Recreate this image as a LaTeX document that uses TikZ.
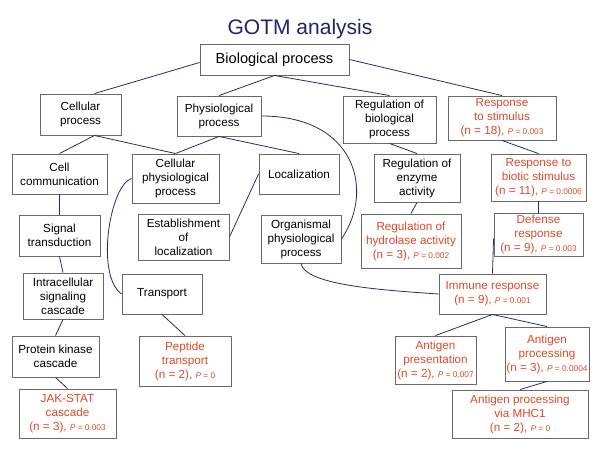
\documentclass[tikz,border=0pt]{standalone}
\usepackage{fontspec}
\setmainfont{Liberation Sans}
\usepackage{xcolor}
\usepackage{tikz}
\usetikzlibrary{arrows.meta, positioning}

\definecolor{titleblue}{RGB}{30,34,112}
\definecolor{linkblue}{RGB}{38,44,102}
\definecolor{hitred}{RGB}{222,74,42}
\definecolor{boxgray}{RGB}{105,105,105}
\newcommand{\pval}[1]{{\fontsize{8.3}{10}\selectfont\textit{P} = #1}}

\begin{document}
\begin{tikzpicture}[
        x=1pt, y=-1pt,
        box/.style={rectangle, draw=boxgray, line width=0.9pt, align=center, inner sep=0pt, fill=white, font=\fontsize{11.7}{14}\selectfont},
        hit/.style={box, text=hitred},
        wh/.style 2 args={minimum width=#1, minimum height=#2},
        link/.style={draw=linkblue, line width=0.8pt},
        title/.style={text=titleblue, font=\fontsize{21}{25}\selectfont}
    ]
    \useasboundingbox (0,0) rectangle (600,450);

    \node[title] (title) at (300,29) {GOTM analysis};
    \node[box, wh={149}{31}, font=\fontsize{14.6}{17}\selectfont] (bio) at (274.5,59.5) {Biological process};

    % second row
    \node[box, wh={81}{41}] (cellular) at (80.5,114.5) {Cellular\\process};
    \node[box, wh={84}{40}] (physio) at (219,116) {Physiological\\process};
    \node[box, wh={93}{47}] (regbio) at (389.5,119.5) {Regulation of\\biological\\process};
    \node[hit, wh={108}{44}] (stimulus) at (502,118) {Response\\to stimulus\\(n = 18), \pval{0.003}};

    % third row
    \node[box, wh={95}{40}] (cellcomm) at (59.5,174) {Cell\\communication};
    \node[box, wh={87}{49}] (cellphys) at (175.5,178.5) {Cellular\\physiological\\process};
    \node[box, wh={80}{40}] (local) at (299,174) {Localization};
    \node[box, wh={86}{48}] (regenz) at (417,178) {Regulation of\\enzyme\\activity};
    \node[hit, wh={95}{47}] (biotic) at (538.5,177.5) {Response to\\biotic stimulus\\(n = 11), \pval{0.0006}};

    % fourth row
    \node[box, wh={81}{41}] (signal) at (59.5,235.5) {Signal\\transduction};
    \node[box, wh={91}{46}] (estab) at (183.5,237) {Establishment\\of\\localization};
    \node[box, wh={80}{48}] (organ) at (301,239) {Organismal\\physiological\\process};
    \node[hit, wh={100}{54}] (hydro) at (411,241) {Regulation of\\hydrolase activity\\(n = 3), \pval{0.002}};
    \node[hit, wh={89}{43}] (defense) at (538.5,234.5) {Defense\\response\\(n = 9), \pval{0.003}};

    % fifth row
    \node[box, wh={80}{46}] (intra) at (63,296) {Intracellular\\signaling\\cascade};
    \node[box, wh={80}{40}] (transport) at (162,294) {Transport};
    \node[hit, wh={107}{40}] (immune) at (492.5,294) {Immune response\\(n = 9), \pval{0.001}};

    % bottom rows
    \node[box, wh={87}{41}] (kinase) at (55.5,356.5) {Protein kinase\\cascade};
    \node[hit, wh={92}{50}] (peptide) at (185,361) {Peptide\\transport\\(n = 2), \pval{0}};
    \node[hit, wh={97}{49}] (jak) at (67.5,413.5) {JAK-STAT\\cascade\\(n = 3), \pval{0.003}};
    \node[hit, wh={81}{48}] (antpres) at (435.5,360) {Antigen\\presentation\\(n = 2), \pval{0.007}};
    \node[hit, wh={84}{54}] (antproc) at (547,354) {Antigen\\processing\\(n = 3), \pval{0.0004}};
    \node[hit, wh={136}{48}] (mhc) at (520,414) {Antigen processing\\via MHC1\\(n = 2), \pval{0}};

    % links
    \draw[link] ([yshift=-3pt]bio.west) -- ([xshift=14pt]cellular.north);
    \draw[link] (bio.south) -- (physio.north);
    \draw[link] (bio.south) -- (regbio.north);
    \draw[link] (bio.east) -- (stimulus.north);
    \draw[link] ([xshift=14pt]cellular.south) -- (cellcomm.north);
    \draw[link] ([xshift=14pt]cellular.south) -- (cellphys.north);
    \draw[link] (physio.south) -- (cellphys.north);
    \draw[link] (physio.south) -- (local.north);
    \draw[link] (physio.east) .. controls (355,116) and (375,190) .. (organ.east);
    \draw[link] (regbio.south) -- (regenz.north);
    \draw[link] (stimulus.south) -- (biotic.north);
    \draw[link] (cellcomm.south) -- (signal.north);
    \draw[link] (signal.south) -- (intra.north);
    \draw[link] (intra.south) -- (kinase.north);
    \draw[link] (kinase.south) -- (jak.north);
    \draw[link] (cellphys.west) .. controls (110,185) and (95,275) .. (transport.west);
    \draw[link] (transport.south) -- (peptide.north);
    \draw[link] (local.west) -- (estab.east);
    \draw[link] (regenz.south) -- (hydro.north);
    \draw[link] (biotic.south) -- (defense.north);
    \draw[link] ([yshift=-4pt]defense.west) -- (immune.north);
    \draw[link] (organ.south) .. controls (305,285) and (380,290) .. (immune.west);
    \draw[link] (immune.south) -- (antpres.north);
    \draw[link] (immune.south) -- (antproc.north);
    \draw[link] (antproc.south) -- (mhc.north);

\end{tikzpicture}
\end{document}
